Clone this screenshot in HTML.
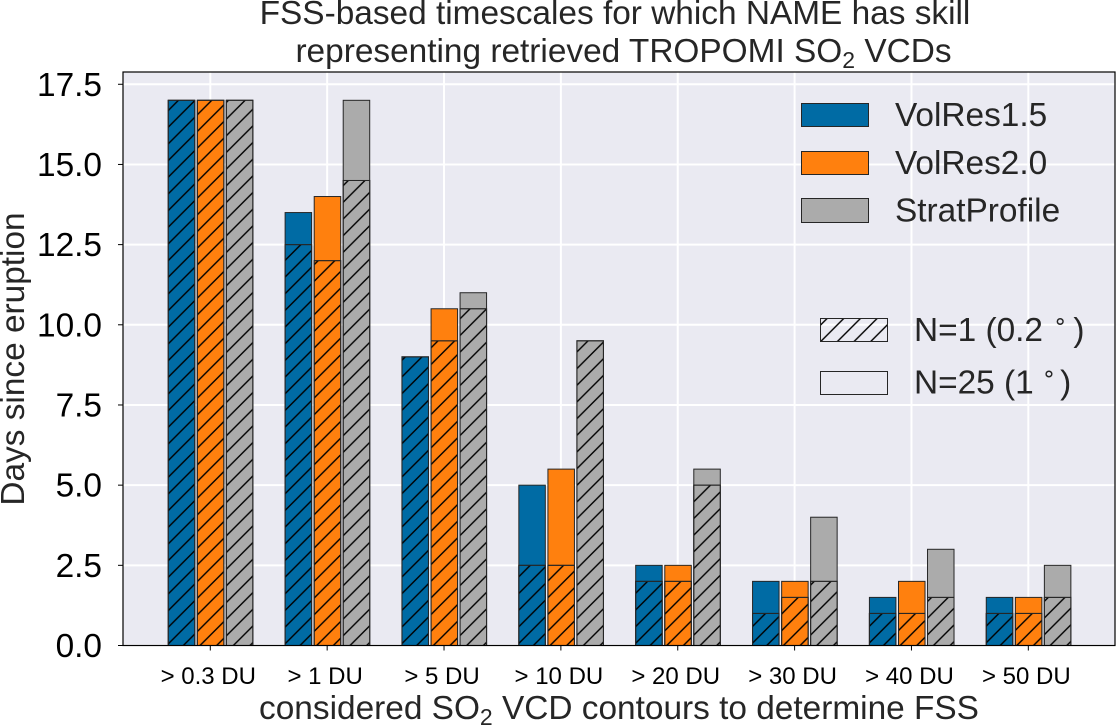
<!DOCTYPE html>
<html>
<head>
<meta charset="utf-8">
<title>FSS-based timescales</title>
<style>
html,body{margin:0;padding:0;background:#fff;}
svg{display:block;}
text{font-family:"Liberation Sans",sans-serif;}
</style>
</head>
<body>
<svg id="chart" xmlns="http://www.w3.org/2000/svg" width="1117" height="726" viewBox="0 0 1117 726">
  <defs>
    <pattern id="hatch" patternUnits="userSpaceOnUse" width="16.67" height="16.67" patternTransform="translate(12,0)">
      <path d="M-2,2 L2,-2 M0,16.67 L16.67,0 M14.67,18.67 L18.67,14.67" stroke="#000" stroke-width="1.4" fill="none"/>
    </pattern>
  </defs>
  <rect x="123" y="72" width="992" height="573.5" fill="#eaeaf2"/>
  <g id="grid"></g>
  <g id="bars"></g>
  <g id="axes"></g>

  <text x="615" y="24" font-size="33.4" fill="#262626" text-anchor="middle">FSS-based timescales for which NAME has skill</text>
  <text x="623.5" y="62" font-size="33.4" fill="#262626" text-anchor="middle">representing retrieved TROPOMI SO<tspan font-size="23" dy="6">2</tspan><tspan dy="-6"> VCDs</tspan></text>
  <text x="619" y="719" font-size="33.4" fill="#262626" text-anchor="middle">considered SO<tspan font-size="23" dy="6">2</tspan><tspan dy="-6"> VCD contours to determine FSS</tspan></text>
  <text transform="translate(24,359) rotate(-90)" font-size="33.4" fill="#262626" text-anchor="middle">Days since eruption</text>

  <g>
    <g>
      <rect x="801.5" y="103.5" width="67" height="23" fill="#006ba4" stroke="#262626" stroke-width="1"/>
      <text x="895" y="126" font-size="33.4" fill="#262626">VolRes1.5</text>
    </g>
    <g>
      <rect x="801.5" y="151.5" width="67" height="23" fill="#ff800e" stroke="#262626" stroke-width="1"/>
      <text x="895" y="174" font-size="33.4" fill="#262626">VolRes2.0</text>
    </g>
    <g>
      <rect x="801.5" y="198.5" width="67" height="24" fill="#ababab" stroke="#262626" stroke-width="1"/>
      <text x="895" y="221.5" font-size="33.4" fill="#262626">StratProfile</text>
    </g>
  </g>
  <g>
    <g>
      <rect x="820.5" y="318.5" width="67" height="23" fill="url(#hatch)" stroke="#262626" stroke-width="1"/>
      <text x="914" y="341" font-size="33.4" fill="#262626">N=1 (0.2<tspan font-size="23" dy="-12" dx="10">&#8728;</tspan><tspan dy="12" dx="6">)</tspan></text>
    </g>
    <g>
      <rect x="820.5" y="371.5" width="67" height="23" fill="none" stroke="#262626" stroke-width="1"/>
      <text x="914" y="393.5" font-size="33.4" fill="#262626">N=25 (1<tspan font-size="23" dy="-12" dx="8">&#8728;</tspan><tspan dy="12" dx="4">)</tspan></text>
    </g>
  </g>
</svg>
<script>
const categories = ['> 0.3 DU', '> 1 DU', '> 5 DU', '> 10 DU', '> 20 DU', '> 30 DU', '> 40 DU', '> 50 DU'];
const yTickLabels = ['0.0', '2.5', '5.0', '7.5', '10.0', '12.5', '15.0', '17.5'];
const volRes15Coarse = [17, 13.5, 9, 5, 2.5, 2, 1.5, 1.5];
const volRes15Fine = [17, 12.5, 9, 2.5, 2, 1, 1, 1];
const volRes20Coarse = [17, 14, 10.5, 5.5, 2.5, 2, 2, 1.5];
const volRes20Fine = [17, 12, 9.5, 2.5, 2, 1.5, 1, 1];
const stratCoarse = [17, 17, 11, 9.5, 5.5, 4, 3, 2.5];
const stratFine = [17, 14.5, 10.5, 9.5, 5, 2, 1.5, 1.5];

const NS = 'http://www.w3.org/2000/svg';
const gridLayer = document.getElementById('grid');
const barLayer = document.getElementById('bars');
const axesLayer = document.getElementById('axes');

function yScale(v) { return 645.5 - v * 32.07; }
function xScale(i) { return 210.3 + i * 116.86; }

function make(tag, attrs, parent) {
  const el = document.createElementNS(NS, tag);
  for (const k in attrs) el.setAttribute(k, attrs[k]);
  parent.appendChild(el);
  return el;
}

yTickLabels.forEach(function (label) {
  const y = yScale(parseFloat(label));
  const line = make('line', {x1: 123, x2: 1115, y1: y, y2: y, stroke: '#fff', 'stroke-width': 2}, gridLayer);
  
  
  const tick = make('line', {x1: 118, x2: 123, y1: y, y2: y, stroke: '#000', 'stroke-width': 1}, axesLayer);
  
  
  const text = make('text', {x: 102, y: y + 11.5, 'font-size': 33.4, fill: '#000', 'text-anchor': 'end'}, axesLayer);
  text.textContent = label;
  
  
});

categories.forEach(function (label, i) {
  const x = xScale(i);
  const line = make('line', {x1: x, x2: x, y1: 72, y2: 645.5, stroke: '#fff', 'stroke-width': 2}, gridLayer);
  
  
  const tick = make('line', {x1: x, x2: x, y1: 645.5, y2: 650.5, stroke: '#000', 'stroke-width': 1}, axesLayer);
  
  
  const text = make('text', {x: x - 2, y: 684, 'font-size': 24, fill: '#000', 'text-anchor': 'middle'}, axesLayer);
  text.textContent = label;
  
  
});

const groups = [
  {key: 'volres15', color: '#006ba4', coarse: volRes15Coarse, fine: volRes15Fine, offset: -28.8},
  {key: 'volres20', color: '#ff800e', coarse: volRes20Coarse, fine: volRes20Fine, offset: 0.3},
  {key: 'stratprofile', color: '#ababab', coarse: stratCoarse, fine: stratFine, offset: 29.3}
];
const barWidth = 26.5;

groups.forEach(function (g) {
  categories.forEach(function (label, i) {
    const left = xScale(i) + g.offset - barWidth / 2;
    const coarseTop = yScale(g.coarse[i]);
    const fineTop = yScale(g.fine[i]);
    const base = yScale(0);
    const coarse = make('rect', {x: left, y: coarseTop, width: barWidth, height: base - coarseTop, fill: g.color, stroke: '#262626', 'stroke-width': 1}, barLayer);
    
    
    const fine = make('rect', {x: left, y: fineTop, width: barWidth, height: base - fineTop, fill: g.color, stroke: '#262626', 'stroke-width': 1}, barLayer);
    
    
    const hatch = make('rect', {x: left, y: fineTop, width: barWidth, height: base - fineTop, fill: 'url(#hatch)', stroke: '#262626', 'stroke-width': 1}, barLayer);
    
    
  });
});

const frame = make('rect', {x: 123, y: 72, width: 992, height: 573.5, fill: 'none', stroke: '#000', 'stroke-width': 1.2}, axesLayer);


</script>
</body>
</html>
